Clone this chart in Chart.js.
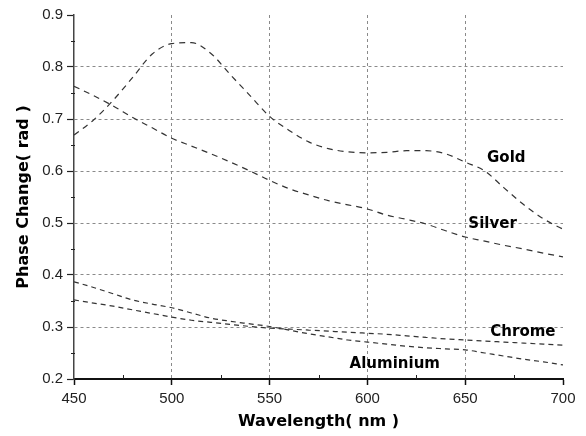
<!DOCTYPE html>
<html>
<head>
<meta charset="utf-8">
<script src="https://cdn.jsdelivr.net/npm/chart.js@4/dist/chart.umd.min.js"></script>
<style>
  html, body { margin: 0; padding: 0; background: #fff; }
  #wrap { width: 586px; height: 436px; position: relative; }
</style>
</head>
<body>
<div id="wrap"><canvas id="c" width="586" height="436"></canvas></div>
<script>
// ---- data ----
const wavelengths = [450,460,470,480,490,500,510,520,530,540,550,560,570,580,590,600,610,620,630,640,650,660,670,680,690,700];
const gold      = [0.669,0.698,0.736,0.780,0.825,0.845,0.847,0.826,0.785,0.745,0.705,0.678,0.656,0.643,0.637,0.635,0.636,0.639,0.639,0.633,0.617,0.600,0.567,0.535,0.508,0.488];
const silver    = [0.763,0.745,0.725,0.703,0.683,0.663,0.648,0.633,0.617,0.600,0.582,0.566,0.554,0.543,0.535,0.527,0.515,0.507,0.498,0.485,0.473,0.465,0.457,0.450,0.442,0.435];
const chrome    = [0.352,0.346,0.340,0.333,0.326,0.319,0.313,0.309,0.305,0.301,0.298,0.296,0.294,0.292,0.290,0.288,0.286,0.283,0.280,0.277,0.275,0.273,0.271,0.269,0.267,0.265];
const aluminium = [0.387,0.376,0.364,0.352,0.344,0.337,0.327,0.317,0.311,0.306,0.301,0.294,0.287,0.281,0.275,0.271,0.267,0.263,0.260,0.258,0.256,0.250,0.244,0.238,0.233,0.227];
const seriesNames = ['Gold','Silver','Chrome','Aluminium'];
const xTicks = [450,500,550,600,650,700];
const yTicks = [0.2,0.3,0.4,0.5,0.6,0.7,0.8,0.9];

// label anchors in data units (wavelength, value)
const labelAnchors = { Gold:[671,0.625], Silver:[664,0.497], Chrome:[679.5,0.290], Aluminium:[614,0.229] };

const seriesValues = [gold, silver, chrome, aluminium];
const dashes = [[6,5],[6,5],[5,4],[5,4]];

const datasets = seriesNames.map((name, i) => ({
  label: name,
  data: wavelengths.map((w, k) => ({x: w, y: seriesValues[i][k]})),
  borderColor: '#333',
  borderWidth: 1.2,
  borderDash: dashes[i],
  pointRadius: 0,
  fill: false,
  cubicInterpolationMode: 'monotone'
}));

const extrasPlugin = {
  id: 'extras',
  afterDraw(chart) {
    const ctx = chart.ctx;
    const xs = chart.scales.x, ys = chart.scales.y;
    ctx.save();
    // minor ticks
    ctx.strokeStyle = '#222';
    ctx.lineWidth = 1;
    for (let i = 0; i < xTicks.length - 1; i++) {
      const v = (xTicks[i] + xTicks[i+1]) / 2;
      const px = Math.round(xs.getPixelForValue(v)) + 0.5;
      ctx.beginPath(); ctx.moveTo(px, ys.bottom); ctx.lineTo(px, ys.bottom - 4); ctx.stroke();
    }
    for (let i = 0; i < yTicks.length - 1; i++) {
      const v = (yTicks[i] + yTicks[i+1]) / 2;
      const py = Math.round(ys.getPixelForValue(v)) + 0.5;
      ctx.beginPath(); ctx.moveTo(xs.left - 3, py); ctx.lineTo(xs.left + 1, py); ctx.stroke();
    }
    // series labels
    ctx.fillStyle = '#000';
    ctx.font = 'bold 15px "DejaVu Sans"';
    ctx.textAlign = 'center';
    ctx.textBaseline = 'middle';
    seriesNames.forEach(n => {
      const a = labelAnchors[n];
      ctx.fillText(n, xs.getPixelForValue(a[0]), ys.getPixelForValue(a[1]));
    });
    ctx.restore();
  }
};

const gridColor = (ctx, lo, hi) => {
  const v = ctx.tick && ctx.tick.value;
  return (v > lo + 1e-6 && v < hi - 1e-6) ? '#8a8a8a' : 'rgba(0,0,0,0)';
};

new Chart(document.getElementById('c'), {
  type: 'line',
  data: { datasets },
  options: {
    responsive: false,
    animation: false,
    layout: { padding: { top: 15, right: 23, left: 0, bottom: 0 } },
    plugins: { legend: { display: false }, tooltip: { enabled: false } },
    scales: {
      x: {
        type: 'linear',
        min: xTicks[0], max: xTicks[xTicks.length-1],
        afterBuildTicks: s => { s.ticks = xTicks.map(v => ({value: v})); },
        afterFit: s => { s.height = 57; },
        ticks: { color: '#222', font: { family: 'Liberation Sans', size: 15 }, padding: 5, maxRotation: 0, autoSkip: false,
                 callback: v => String(v) },
        grid: { color: c => gridColor(c, 450, 700), lineWidth: 1, tickColor: '#111', tickLength: 6, tickWidth: 1.5 },
        border: { color: '#111', width: 2, dash: [3,3] },
        title: { display: true, text: 'Wavelength( nm )', color: '#000',
                 font: { family: 'DejaVu Sans', size: 16, weight: 'bold' }, padding: { top: 0, bottom: 5 } }
      },
      y: {
        type: 'linear',
        min: yTicks[0], max: yTicks[yTicks.length-1],
        afterBuildTicks: s => { s.ticks = yTicks.map(v => ({value: v})); },
        afterFit: s => { s.width = 74; },
        ticks: { color: '#222', font: { family: 'Liberation Sans', size: 15 }, padding: 4,
                 callback: v => Number(v).toFixed(1) },
        grid: { color: c => gridColor(c, 0.2, 0.9), lineWidth: 1, tickColor: '#222', tickLength: 7, tickWidth: 1.2 },
        border: { color: '#444', width: 1.5, dash: [3,3] },
        title: { display: true, text: 'Phase Change( rad )', color: '#000',
                 font: { family: 'DejaVu Sans', size: 16, weight: 'bold' }, padding: { top: 14, bottom: 0 } }
      }
    }
  },
  plugins: [extrasPlugin]
});
</script>
</body>
</html>
